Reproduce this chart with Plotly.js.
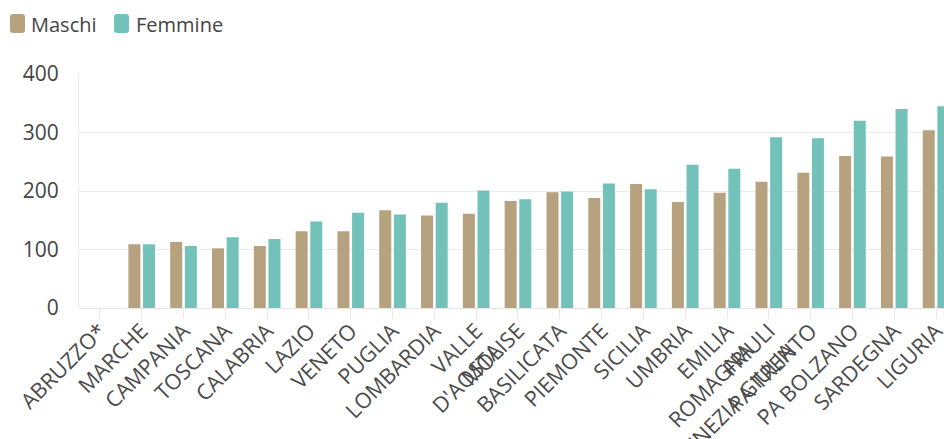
<!DOCTYPE html>
<html>
<head>
<meta charset="utf-8">
<script src="https://cdn.plot.ly/plotly-3.0.1.min.js"></script>
<style>html,body{margin:0;padding:0;background:#fff;overflow:hidden}#chart{width:944px;height:439px}</style>
</head>
<body>
<div id="chart"></div>
<script>
var regions = ["ABRUZZO*", "MARCHE", "CAMPANIA", "TOSCANA", "CALABRIA", "LAZIO", "VENETO", "PUGLIA", "LOMBARDIA", "VALLE<br>D'AOSTA", "MOLISE", "BASILICATA", "PIEMONTE", "SICILIA", "UMBRIA", "EMILIA<br>ROMAGNA", "FRIULI<br>VENEZIA GIULIA", "PA TRENTO", "PA BOLZANO", "SARDEGNA", "LIGURIA"];
var maschi = [null, 109, 113, 102, 106, 131, 131, 167, 158, 161, 183, 198, 188, 212, 181, 197, 216, 231, 260, 259, 304];
var femmine = [null, 109, 106, 121, 118, 148, 163, 160, 180, 201, 186, 199, 213, 203, 245, 238, 292, 290, 320, 340, 345];
var seriesNames = ["Maschi", "Femmine"];
var seriesColors = ["#b6a27f", "#72c2ba"];
var yTicks = [0, 100, 200, 300, 400];

var fam = "Open Sans, sans-serif";
var W = 944, H = 439, M = {l: 79, r: 0, t: 74, b: 131};
var pw = W - M.l - M.r, ph = H - M.t - M.b;
function px2x(p) { return (p - M.l) / pw; }
function px2y(p) { return (H - M.b - p) / ph; }

var data = [
  {type: "bar", name: seriesNames[0], x: regions, y: maschi, marker: {color: seriesColors[0]}},
  {type: "bar", name: seriesNames[1], x: regions, y: femmine, marker: {color: seriesColors[1]}}
];

// custom legend (rounded swatches + labels)
var legendItems = [{sx: 10, tx: 29}, {sx: 114, tx: 134}];
var shapes = [], annotations = [];
legendItems.forEach(function (it, i) {
  var x0 = it.sx, x1 = it.sx + 15, y0 = 14, y1 = 33, r = 3;
  var path = "M" + px2x(x0 + r) + "," + px2y(y0) +
    " L" + px2x(x1 - r) + "," + px2y(y0) +
    " Q" + px2x(x1) + "," + px2y(y0) + " " + px2x(x1) + "," + px2y(y0 + r) +
    " L" + px2x(x1) + "," + px2y(y1 - r) +
    " Q" + px2x(x1) + "," + px2y(y1) + " " + px2x(x1 - r) + "," + px2y(y1) +
    " L" + px2x(x0 + r) + "," + px2y(y1) +
    " Q" + px2x(x0) + "," + px2y(y1) + " " + px2x(x0) + "," + px2y(y1 - r) +
    " L" + px2x(x0) + "," + px2y(y0 + r) +
    " Q" + px2x(x0) + "," + px2y(y0) + " " + px2x(x0 + r) + "," + px2y(y0) + " Z";
  shapes.push({type: "path", xref: "paper", yref: "paper", path: path, fillcolor: seriesColors[i], line: {width: 0}});
  annotations.push({xref: "paper", yref: "paper", x: px2x(it.tx), y: px2y(24), xanchor: "left", yanchor: "middle",
    text: seriesNames[i], showarrow: false, font: {family: fam, size: 20, color: "#444"}});
});

var layout = {
  width: W, height: H,
  margin: M,
  paper_bgcolor: "#fff", plot_bgcolor: "#fff",
  font: {family: fam, color: "#444", size: 16},
  barmode: "group", bargap: 0.3, bargroupgap: 0.18,
  showlegend: false,
  shapes: shapes, annotations: annotations,
  xaxis: {type: "category", range: [-0.5, 20.19], tickangle: -45, ticks: "outside", ticklen: 10, tickcolor: "#e8e8e8",
          ticklabelstandoff: -9,
          showgrid: false, showline: false, zeroline: false, tickfont: {family: fam, size: 21.5, color: "#4a4a4a"}, automargin: false},
  yaxis: {range: [0, 400], tickvals: yTicks, ticktext: yTicks.map(String), showgrid: true, gridcolor: "#ececec",
          zeroline: true, zerolinecolor: "#e6e6e6", showline: true, linecolor: "#ececec",
          ticks: "outside", ticklen: 15, tickcolor: "rgba(0,0,0,0)",
          tickfont: {family: fam, size: 21, color: "#444"}, automargin: false}
};
Plotly.newPlot("chart", data, layout, {displayModeBar: false, staticPlot: true});
</script>
</body>
</html>
